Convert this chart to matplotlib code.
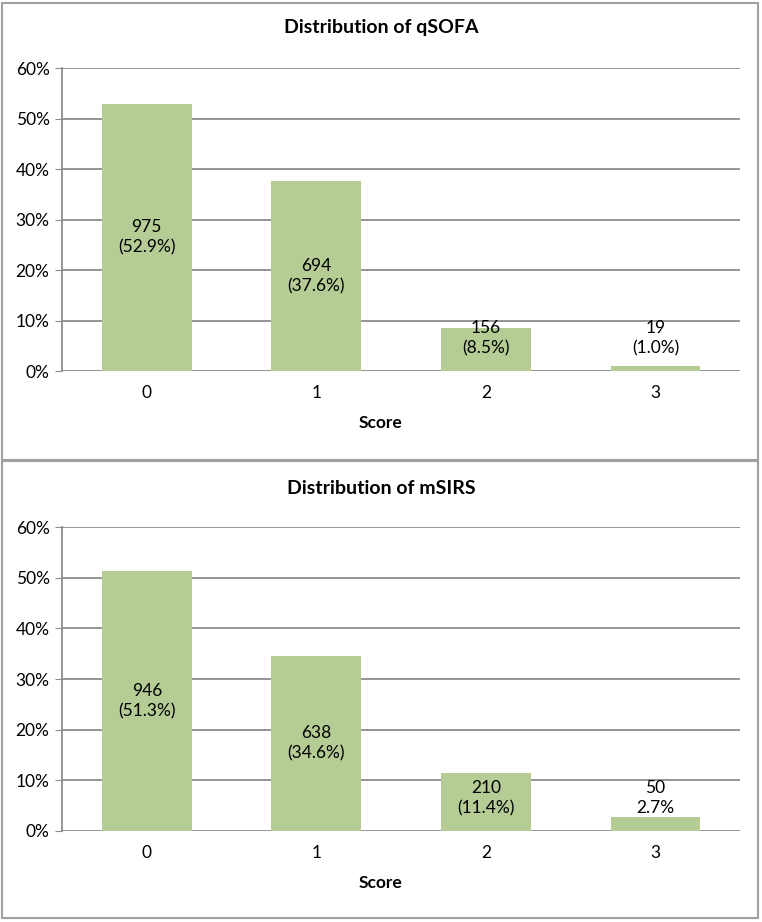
import numpy as np
import matplotlib.pyplot as plt
from matplotlib.patches import Rectangle

plt.rcParams['font.family'] = ['Lato', 'DejaVu Sans']

# Dados
scores = ['0', '1', '2', '3']
qsofa_n = [975, 694, 156, 19]
qsofa_pct = [52.9, 37.6, 8.5, 1.0]
msirs_n = [946, 638, 210, 50]
msirs_pct = [51.3, 34.6, 11.4, 2.7]
msirs_pct_labels = ['(51.3%)', '(34.6%)', '(11.4%)', '2.7%']
qsofa_pct_labels = ['(%.1f%%)' % p for p in qsofa_pct]

bar_color = '#B5CC95'
grid_color = '#8C8C8C'

fig = plt.figure(figsize=(7.62, 9.22), dpi=100)

# Molduras dos dois paineis
fig.patches.append(Rectangle((0.003, 0.501), 0.992, 0.496, transform=fig.transFigure,
                             fill=False, edgecolor='#A0A0A0', lw=1.5))
fig.patches.append(Rectangle((0.003, 0.004), 0.992, 0.496, transform=fig.transFigure,
                             fill=False, edgecolor='#A0A0A0', lw=1.5))


def painel(rect, n, pct, pct_labels, titulo, y_titulo, y_label):
    ax = fig.add_axes(rect)
    x = np.arange(len(scores))
    ax.bar(x, pct, width=0.53, color=bar_color, zorder=2)
    ax.set_xlim(-0.5, 3.5)
    ax.set_ylim(0, 60)
    ax.set_yticks(range(0, 61, 10))
    ax.set_yticklabels(['%d%%' % v for v in range(0, 61, 10)], fontsize=12.5)
    ax.set_xticks(x)
    ax.set_xticklabels(scores, fontsize=12.5)
    ax.yaxis.grid(True, color=grid_color, lw=1.3, zorder=1)
    for s in ['top', 'right', 'bottom']:
        ax.spines[s].set_visible(False)
    ax.spines['left'].set_color(grid_color)
    ax.spines['left'].set_linewidth(1.3)
    ax.tick_params(axis='y', length=5, color=grid_color, pad=4)
    ax.tick_params(axis='x', length=0, pad=10)
    for i in range(len(scores)):
        yy = max(pct[i] / 2, 6.5)
        ax.text(x[i], yy, '%d\n%s' % (n[i], pct_labels[i]), ha='center', va='center',
                fontsize=12.5, linespacing=1.3, zorder=3)
    fig.text(0.5, y_titulo, titulo, ha='center', va='center', fontsize=14, fontweight='bold')
    fig.text(0.5, y_label, 'Score', ha='center', va='center', fontsize=12.5, fontweight='bold')
    return ax


painel([0.0814, 0.5976, 0.890, 0.3286], qsofa_n, qsofa_pct, qsofa_pct_labels,
       'Distribution of qSOFA', 1 - 28 / 922, 1 - 423 / 922)
painel([0.0814, 0.0987, 0.890, 0.3297], msirs_n, msirs_pct, msirs_pct_labels,
       'Distribution of mSIRS', 1 - 488 / 922, 1 - 883 / 922)

plt.savefig('out.png', dpi=100)
